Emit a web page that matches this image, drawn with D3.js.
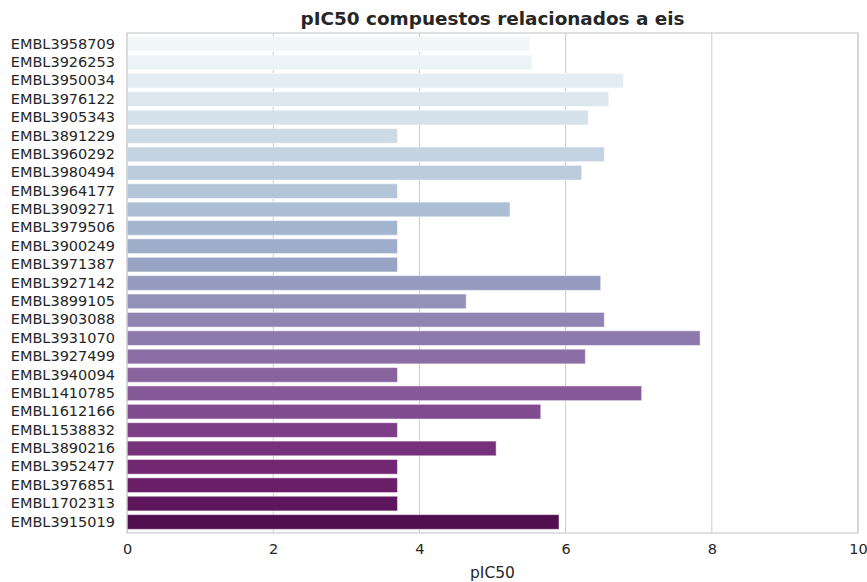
<!DOCTYPE html>
<html>
<head>
<meta charset="utf-8">
<script src="https://cdn.jsdelivr.net/npm/d3@7"></script>
<style>
  body { margin: 0; background: #fff; }
  text { font-family: "DejaVu Sans", sans-serif; fill: #262626; }
</style>
</head>
<body>
<div id="chart"></div>
<script>
var svgWidth = 867;
var svgHeight = 582;

var margin = { top: 33, right: 9, bottom: 49, left: 127 };

var width = svgWidth - margin.left - margin.right;
var height = svgHeight - margin.top - margin.bottom;

// data
var compounds = ["EMBL3958709", "EMBL3926253", "EMBL3950034", "EMBL3976122", "EMBL3905343",
  "EMBL3891229", "EMBL3960292", "EMBL3980494", "EMBL3964177", "EMBL3909271", "EMBL3979506",
  "EMBL3900249", "EMBL3971387", "EMBL3927142", "EMBL3899105", "EMBL3903088", "EMBL3931070",
  "EMBL3927499", "EMBL3940094", "EMBL1410785", "EMBL1612166", "EMBL1538832", "EMBL3890216",
  "EMBL3952477", "EMBL3976851", "EMBL1702313", "EMBL3915019"];
var pic50 = [5.51, 5.54, 6.79, 6.59, 6.31, 3.70, 6.53, 6.22, 3.70, 5.24, 3.70,
  3.70, 3.70, 6.48, 4.64, 6.53, 7.84, 6.27, 3.70, 7.04, 5.66, 3.70, 5.05,
  3.70, 3.70, 3.70, 5.91];
var xTicks = [0, 2, 4, 6, 8, 10];

var data = compounds.map(function(c, i) { return { name: c, value: pic50[i] }; });

// seaborn style BuPu palette, desaturated to 0.75
function barColor(i) {
  var c = d3.hsl(d3.interpolateBuPu((i + 1) / (compounds.length + 1)));
  c.s = c.s * 0.75;
  return c.formatHex();
}

var svg = d3.select("#chart")
  .append("svg")
  .attr("width", svgWidth)
  .attr("height", svgHeight);

var chartGroup = svg.append("g")
  .attr("transform", `translate(${margin.left}, ${margin.top})`);

var xScale = d3.scaleLinear()
  .domain([0, 10])
  .range([0, width]);

var yScale = d3.scaleBand()
  .domain(compounds)
  .range([0, height])
  .padding(0.2);

// grid lines
chartGroup.append("g")
  .selectAll("line")
  .data(xTicks)
  .enter()
  .append("line")
  .attr("x1", d => xScale(d))
  .attr("x2", d => xScale(d))
  .attr("y1", 0)
  .attr("y2", height)
  .attr("stroke", "#cccccc")
  .attr("stroke-width", 1);

// bars
chartGroup.selectAll("rect.bar")
  .data(data)
  .enter()
  .append("rect")
  .attr("class", "bar")
  .attr("x", xScale(0))
  .attr("y", d => yScale(d.name))
  .attr("width", d => xScale(d.value) - xScale(0))
  .attr("height", yScale.bandwidth())
  .attr("fill", (d, i) => barColor(i))
  .attr("stroke", "rgba(255,255,255,0.5)")
  .attr("stroke-width", 1);

// frame
chartGroup.append("rect")
  .attr("x", 0)
  .attr("y", 0)
  .attr("width", width)
  .attr("height", height)
  .attr("fill", "none")
  .attr("stroke", "#cccccc")
  .attr("stroke-width", 1.2);

// axes
var bottomAxis = d3.axisBottom(xScale).tickValues(xTicks).tickSize(0).tickPadding(11);
var leftAxis = d3.axisLeft(yScale).tickSize(0).tickPadding(12);

var xAxisG = chartGroup.append("g")
  .attr("transform", `translate(0, ${height})`)
  .call(bottomAxis);

var yAxisG = chartGroup.append("g")
  .call(leftAxis);

[xAxisG, yAxisG].forEach(function(g) {
  g.select(".domain").remove();
  g.selectAll("text")
    .style("font-size", "14.5px")
    .style("font-family", "DejaVu Sans, sans-serif")
    .attr("fill", "#262626");
});

// title and axis label
svg.append("text")
  .attr("x", margin.left + width / 2)
  .attr("y", 25)
  .attr("text-anchor", "middle")
  .style("font-size", "18.4px")
  .style("font-weight", "bold")
  .text("pIC50 compuestos relacionados a eis");

svg.append("text")
  .attr("x", margin.left + width / 2)
  .attr("y", 578)
  .attr("text-anchor", "middle")
  .style("font-size", "15.5px")
  .text("pIC50");
</script>
</body>
</html>
